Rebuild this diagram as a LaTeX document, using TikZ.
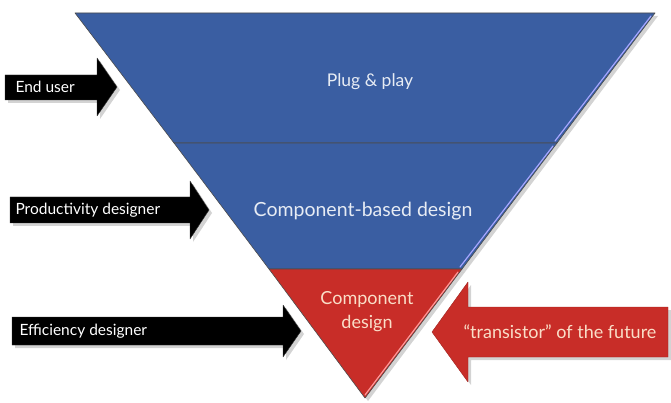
\documentclass[tikz,border=0pt]{standalone}
\usepackage{fontspec}
\setmainfont{Lato}
\usetikzlibrary{calc}
\usetikzlibrary{positioning}
\usetikzlibrary{shadows}

\definecolor{bandblue}{RGB}{58,94,162}
\definecolor{bandred}{RGB}{200,45,40}
\definecolor{redtext}{RGB}{250,222,200}

\begin{document}
\begin{tikzpicture}[x=1pt, y=-1pt,
	band/.style={draw=black!70, line width=0.6pt, line join=round,
		drop shadow={shadow xshift=3pt, shadow yshift=-3pt, opacity=0.35}},
	bandedge/.style={line width=1.2pt, line cap=round},
	rolearrow/.style={fill=black, draw=black!80, line join=round,
		drop shadow={shadow xshift=3pt, shadow yshift=-3pt, opacity=0.35}},
	bandtext/.style={text=white!88!bandblue, font=\fontsize{17}{23}\selectfont},
	roletext/.style={text=white, anchor=west, font=\fontsize{15.5}{18}\selectfont}]
					\useasboundingbox (0, 0) rectangle (671, 403);

					% the funnel
					\coordinate (T1) at (75, 13);
					\coordinate (T2) at (655, 13);
					\coordinate (M1) at (174, 143);
					\coordinate (M2) at (557, 143);
					\coordinate (R1) at (269, 269);
					\coordinate (R2) at (462, 269);
					\coordinate (apex) at (365, 398);

					\draw[band, fill=bandblue] (T1) -- (T2) -- (M2) -- (M1) -- cycle;
					\draw[band, fill=bandblue] (M1) -- (M2) -- (R2) -- (R1) -- cycle;
					\draw[band, fill=bandred] (R1) -- (R2) -- (apex) -- cycle;
					\draw[bandedge, blue!35!white] ($(T2)+(-4, 3)$) -- ($(M2)+(-2, -2)$);
					\draw[bandedge, blue!35!white] ($(M2)+(-4, 3)$) -- ($(R2)+(-2, -2)$);
					\draw[bandedge, red!40!white] ($(R2)+(-4, 3)$) -- ($(apex)+(0, -3)$);

					\node[bandtext, font=\fontsize{17.5}{21}\selectfont] (plug) at (370, 82) {Plug \& play};
					\node[bandtext, font=\fontsize{19.5}{23}\selectfont] (cbd) at (363, 211) {Component-based design};
					\node[bandtext, text=redtext, align=center, font=\fontsize{18}{24}\selectfont] (cd) at (367, 312) {Component\\design};

					% roles on the left
					\draw[rolearrow] (5, 75) -- (97, 75) -- (97, 58) -- (117, 87) -- (97, 116) -- (97, 100) -- (5, 100) -- cycle;
					\node[roletext] (user) at (12, 87) {End user};

					\draw[rolearrow] (10, 197) -- (190, 197) -- (190, 181) -- (209, 210) -- (190, 239) -- (190, 223) -- (10, 223) -- cycle;
					\node[roletext] (prod) at (12, 210) {Productivity designer};

					\draw[rolearrow] (12, 317) -- (283, 317) -- (283, 305) -- (301, 331) -- (283, 357) -- (283, 345) -- (12, 345) -- cycle;
					\node[roletext] (eff) at (16, 331) {Efficiency designer};

					% the future
					\draw[rolearrow, fill=bandred, draw=bandred!80!black] (668, 307) -- (468, 307) -- (468, 282) -- (432, 332) -- (468, 382) -- (468, 357) -- (668, 357) -- cycle;
					\node[bandtext, text=redtext, font=\fontsize{18}{21}\selectfont] (trans) at (560, 332) {``transistor'' of the future};
                \end{tikzpicture}
\end{document}
